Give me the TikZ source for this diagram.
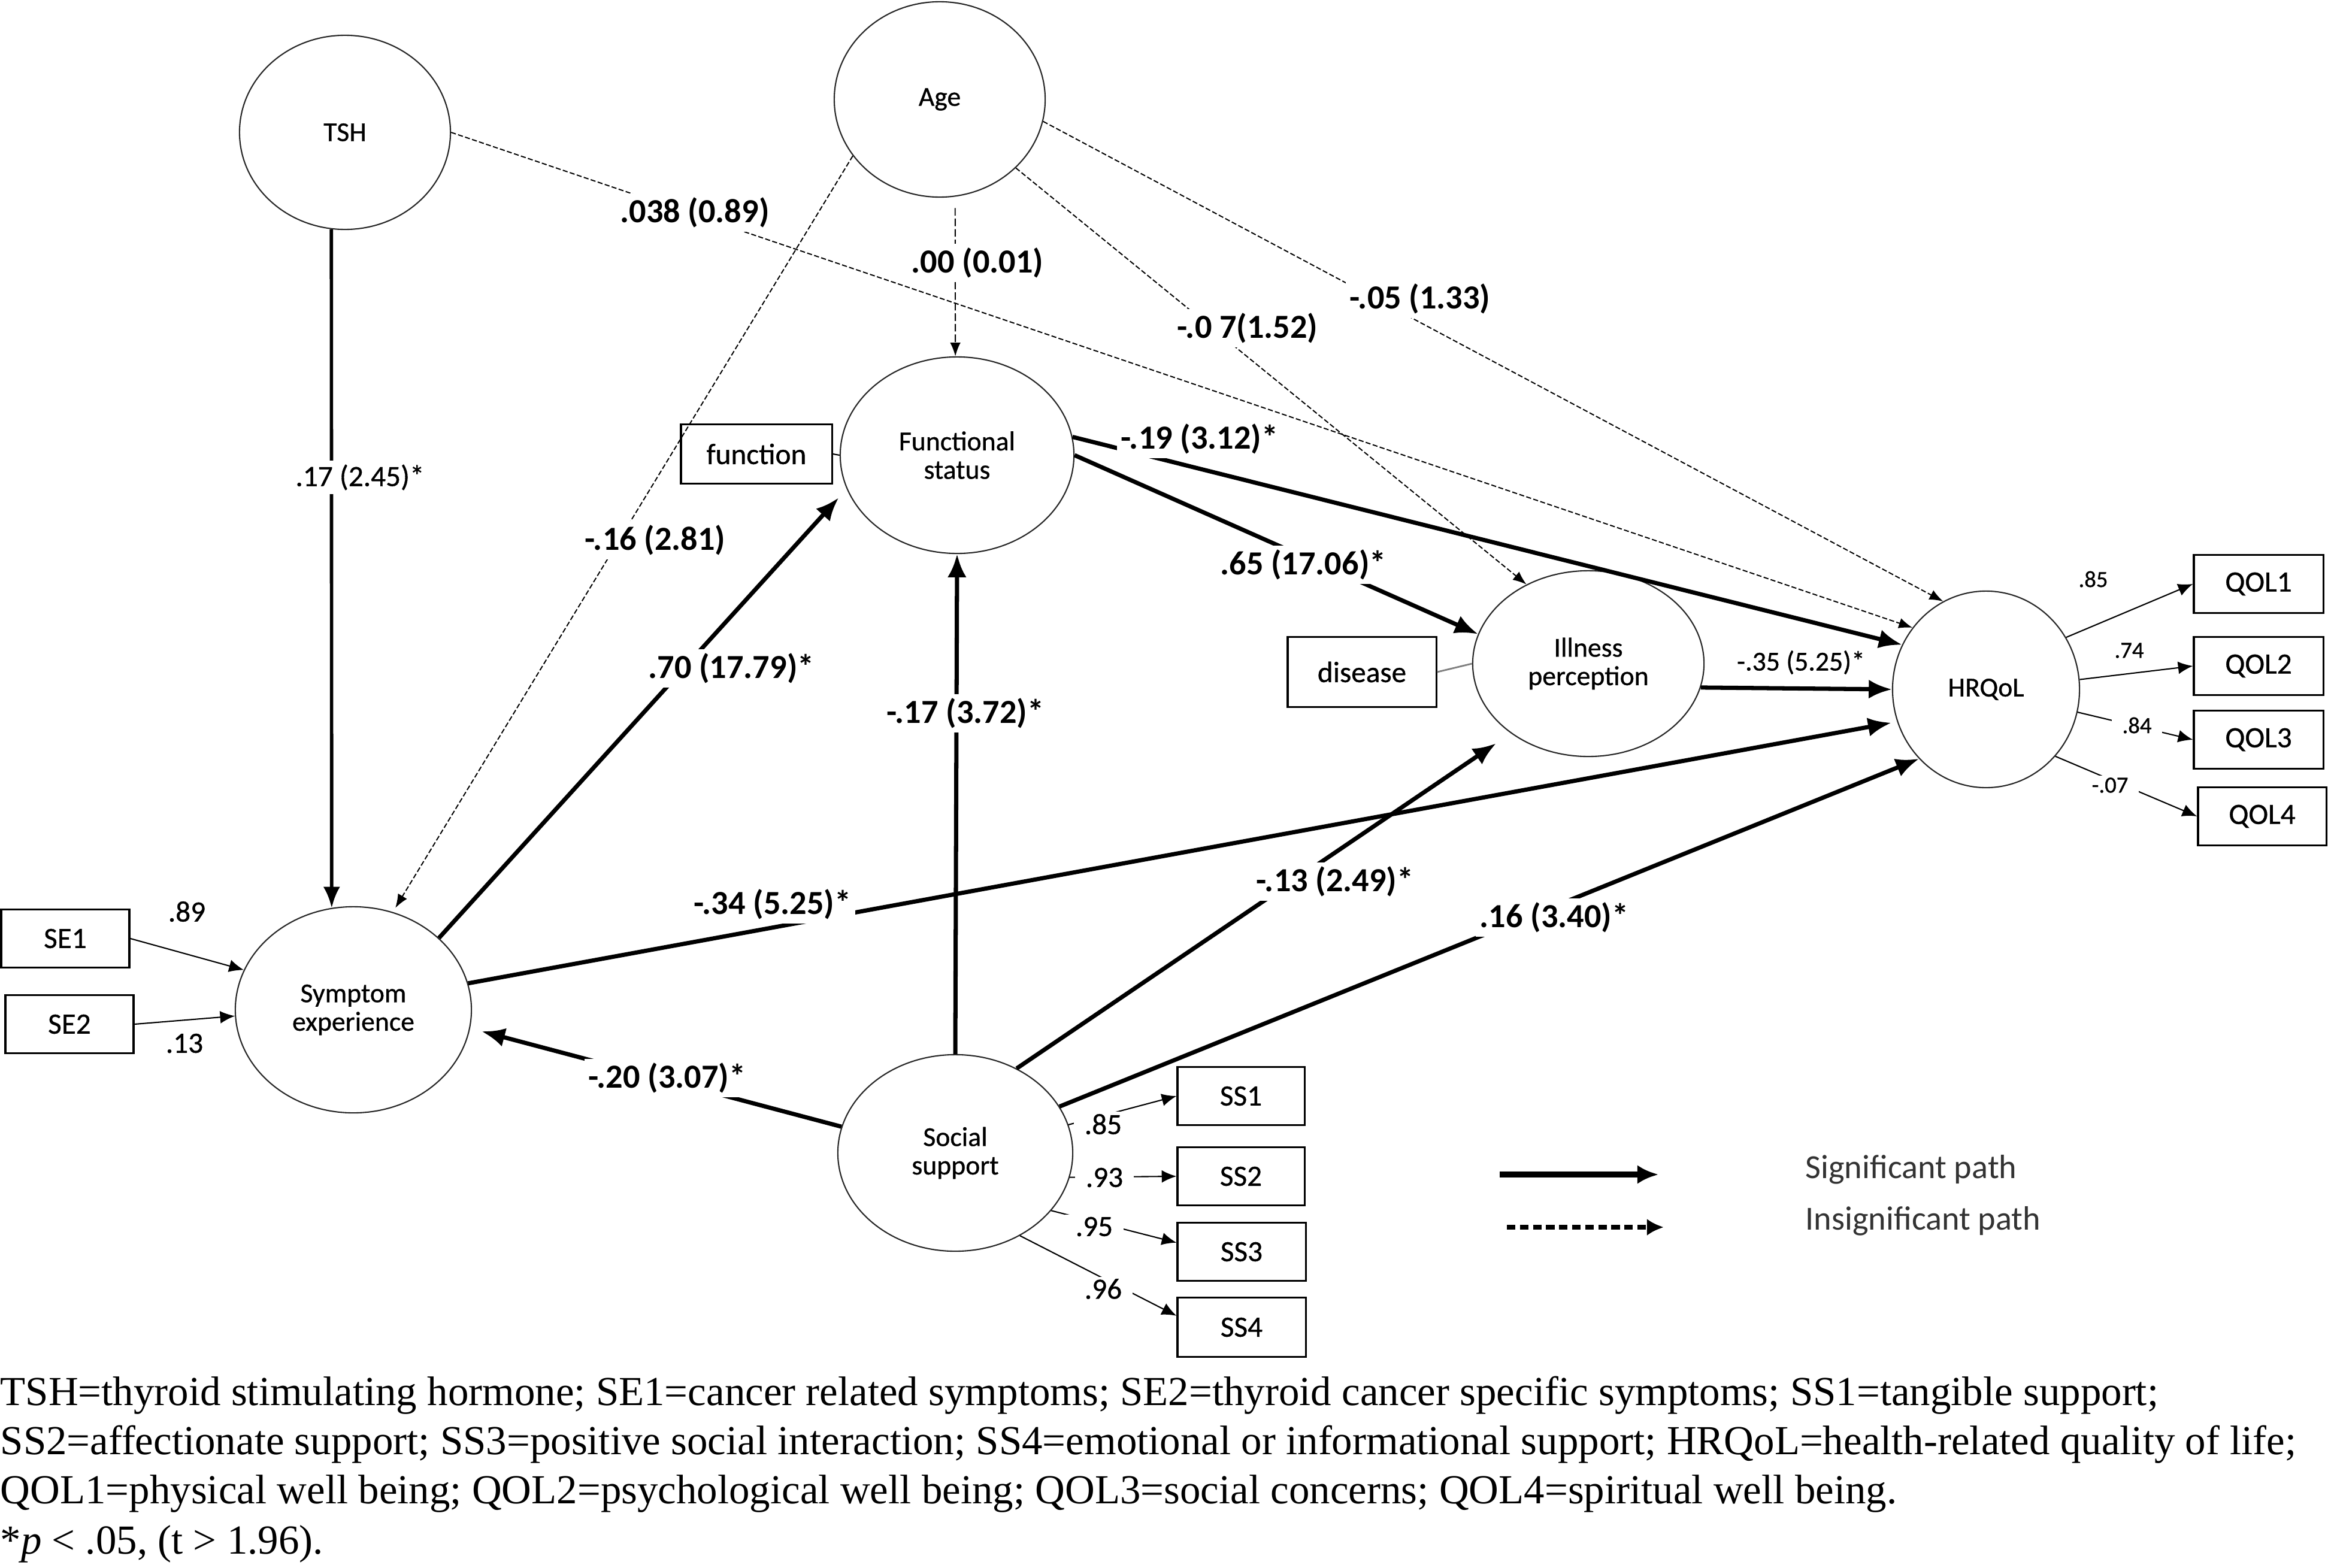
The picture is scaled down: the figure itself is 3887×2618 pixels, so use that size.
\documentclass[tikz,border=0pt]{standalone}
\usepackage{fontspec}
\setmainfont{Liberation Serif}
\newfontfamily\carl[FakeBold=0.7]{Carlito}
\newfontfamily\carlb{Carlito}
\usetikzlibrary{arrows.meta,shapes.geometric,calc}
\begin{document}
\begin{tikzpicture}[x=0.01cm,y=-0.01cm,
  lat/.style={ellipse,draw=black!85,line width=0.6pt,inner sep=0pt,align=center,
    font=\carl\fontsize{13}{13.5}\selectfont},
  obs/.style={rectangle,draw,line width=0.9pt,inner sep=0pt,
    font=\carl\fontsize{14}{14}\selectfont},
  sig/.style={line width=2pt,-{Latex[length=11pt,width=9pt]}},
  sigthin/.style={line width=1.6pt,-{Latex[length=10pt,width=8pt]}},
  nsig/.style={line width=0.55pt,dash pattern=on 2.4pt off 1.1pt,-{Latex[length=6.5pt,width=5pt]}},
  load/.style={line width=0.6pt,-{Latex[length=7pt,width=6pt]}},
  blab/.style={fill=white,inner sep=2pt,font=\carlb\bfseries\fontsize{16}{16}\selectfont},
  rlab/.style={fill=white,inner sep=2pt,font=\carl\fontsize{14}{14}\selectfont},
  slab/.style={inner sep=1pt,font=\carl\fontsize{13}{13}\selectfont},
  llab/.style={inner sep=1pt,font=\carl\fontsize{14}{14}\selectfont},
  qlab/.style={inner sep=1pt,font=\carl\fontsize{11}{11}\selectfont},
  fl/.style={fill=white,inner xsep=5pt},
  legt/.style={anchor=west,inner sep=0pt,text=black!80,font=\carlb\fontsize{16}{16}\selectfont},
  captxt/.style={anchor=west,inner sep=0pt,font=\fontsize{19.6}{19.6}\selectfont}
]
\useasboundingbox[fill=white] (0,0) rectangle (3887,2618);

% latent variables
\node[lat,minimum width=3.52cm,minimum height=3.24cm] (tsh) at (576,221) {TSH};
\node[lat,minimum width=3.52cm,minimum height=3.26cm] (age) at (1569,166) {Age};
\node[lat,minimum width=3.90cm,minimum height=3.28cm] (fs) at (1598,760) {Functional\\status};
\node[lat,minimum width=3.94cm,minimum height=3.44cm] (se) at (590,1686) {Symptom\\experience};
\node[lat,minimum width=3.92cm,minimum height=3.28cm] (ss) at (1595,1925) {Social\\support};
\node[lat,minimum width=3.86cm,minimum height=3.10cm] (ip) at (2652,1108) {Illness\\perception};
\node[lat,minimum width=3.12cm,minimum height=3.28cm] (hr) at (3316,1151) {HRQoL};

% observed variables
\node[obs,minimum width=2.52cm,minimum height=0.99cm] (func) at (1263,758) {function};
\node[obs,minimum width=2.48cm,minimum height=1.17cm] (dis) at (2274,1122) {disease};
\node[obs,minimum width=2.14cm,minimum height=0.97cm] (se1) at (109,1567) {SE1};
\node[obs,minimum width=2.14cm,minimum height=0.97cm] (se2) at (116,1710) {SE2};
\node[obs,minimum width=2.16cm,minimum height=0.97cm] (q1) at (3771,975) {QOL1};
\node[obs,minimum width=2.16cm,minimum height=0.97cm] (q2) at (3771,1112) {QOL2};
\node[obs,minimum width=2.16cm,minimum height=0.97cm] (q3) at (3771,1235) {QOL3};
\node[obs,minimum width=2.14cm,minimum height=0.97cm] (q4) at (3777,1363) {QOL4};
\node[obs,minimum width=2.12cm,minimum height=0.97cm] (s1) at (2072,1830) {SS1};
\node[obs,minimum width=2.12cm,minimum height=0.97cm] (s2) at (2072,1964) {SS2};
\node[obs,minimum width=2.14cm,minimum height=0.97cm] (s3) at (2073,2090) {SS3};
\node[obs,minimum width=2.14cm,minimum height=0.99cm] (s4) at (2073,2216) {SS4};

% insignificant paths
\draw[nsig] (tsh.east) -- (hr.140);
\draw[nsig,dash pattern=on 3.6pt off 1.4pt,shorten <=0.19cm] (age.279) -- (fs.91);
\draw[nsig,shorten >=0.08cm] (age.213) -- (se.68);
\draw[nsig] (age.318) -- (ip.128);
\draw[nsig] (age.348) -- (hr.116);

% significant paths
\draw[sigthin] (tsh.262) -- (se.102);
\draw[sig] (fs.9) -- (hr.152);
\draw[sig] (fs.east) -- (ip.165);
\draw[sig,shorten >=0.2cm] (se.40) -- (fs.197);
\draw[sig,shorten >=0.1cm] (se.13) -- (hr.200);
\draw[sig,shorten >=0.2cm] (ss.167) -- (se.351);
\draw[sig] (ss.north) -- (fs.south);
\draw[sig,shorten >=0.3cm] (ss.54) -- (ip.222);
\draw[sig] (ss.24) -- (hr.226);
\draw[sig] (ip.348) -- (hr.180);

% measurement links
\draw[line width=0.6pt] (func.east) -- (fs.west);
\draw[line width=0.8pt,draw=black!50] (dis.east) -- (ip.west);
\draw[load] (se1.east) -- (se.160);
\draw[load] (se2.east) -- (se.183);
\draw[load] (hr.33) -- (q1.west);
\draw[load] (hr.6) -- (q2.west);
\draw[load] (hr.346) -- (q3.west);
\draw[load] (hr.316) -- (q4.west);
\draw[load] (ss.14) -- (s1.west);
\draw[load] (ss.348) -- (s2.west);
\draw[load] (ss.329) -- (s3.172);
\draw[load] (ss.308) -- (s4.170);

% path labels
\node[rlab] (l1) at (601,797) {.17 (2.45)*};
\node[blab] (l2) at (1160,355) {.038 (0.89)};
\node[blab] (l3) at (1632,439) {.00 (0.01)};
\node[blab] (l4) at (1094,902) {-.16 (2.81)};
\node[blab] (l5) at (2083,548) {-.0 7(1.52)};
\node[blab] (l6) at (2371,499) {-.05 (1.33)};
\node[blab] (l7) at (2003,733) {-.19 (3.12)*};
\node[blab] (l8) at (2176,943) {.65 (17.06)*};
\node[blab] (l9) at (1221,1116) {.70 (17.79)*};
\node[blab] (l10) at (1290,1510) {-.34 (5.25)*};
\node[blab] (l11) at (1114,1800) {-.20 (3.07)*};
\node[blab] (l12) at (1612,1191) {-.17 (3.72)*};
\node[blab] (l13) at (2229,1472) {-.13 (2.49)*};
\node[blab] (l14) at (2595,1532) {.16 (3.40)*};
\node[slab] (l15) at (3007,1106) {-.35 (5.25)*};

% loading labels
\node[llab] (m1) at (312,1522) {.89};
\node[llab] (m2) at (308,1742) {.13};
\node[qlab] (m3) at (3495,967) {.85};
\node[qlab] (m4) at (3555,1086) {.74};
\node[qlab,fl] (m5) at (3568,1211) {.84};
\node[qlab,fl] (m6) at (3523,1311) {-.07};
\node[llab,fl] (m7) at (1842,1877) {.85};
\node[llab,fl] (m8) at (1844,1966) {.93};
\node[llab,fl] (m9) at (1827,2048) {.95};
\node[llab,fl] (m10) at (1842,2152) {.96};

% legend
\coordinate (la1) at (2504,1961);
\coordinate (la2) at (2769,1961);
\coordinate (lb1) at (2516,2049);
\coordinate (lb2) at (2778,2049);
\draw[line width=2.8pt,-{Latex[length=10pt,width=9pt]}] (la1) -- (la2);
\draw[line width=2.2pt,dash pattern=on 4pt off 2.2pt,-{Latex[length=8pt,width=8pt]}] (lb1) -- (lb2);
\node[legt] (lt1) at (3014,1953) {Significant path};
\node[legt] (lt2) at (3014,2039) {Insignificant path};

% caption
\node[captxt] (c1) at (0,2330) {TSH=thyroid stimulating hormone; SE1=cancer related symptoms; SE2=thyroid cancer specific symptoms; SS1=tangible support;};
\node[captxt] (c2) at (0,2412) {SS2=affectionate support; SS3=positive social interaction; SS4=emotional or informational support; HRQoL=health-related quality of life;};
\node[captxt] (c3) at (0,2494) {QOL1=physical well being; QOL2=psychological well being; QOL3=social concerns; QOL4=spiritual well being.};
\node[captxt] (c4) at (0,2578) {*\textit{p} < .05, (t > 1.96).};
\end{tikzpicture}
\end{document}
